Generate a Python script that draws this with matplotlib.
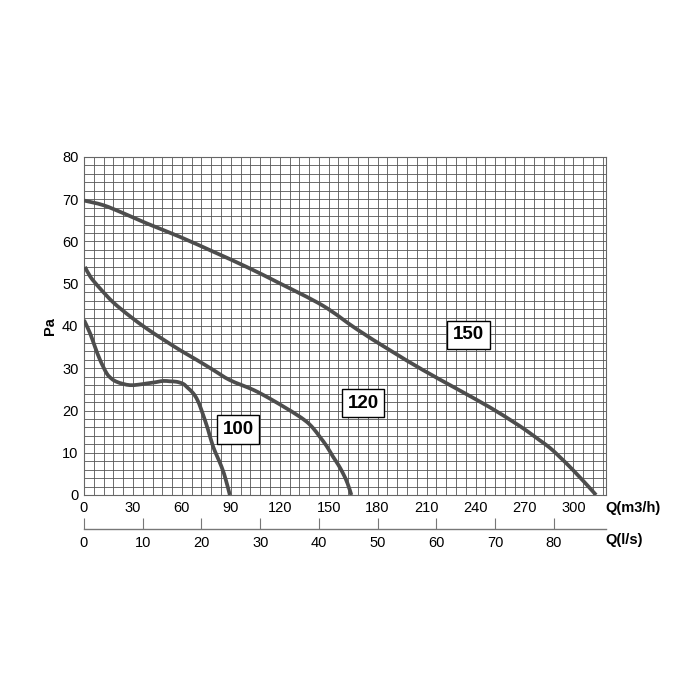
import numpy as np
import matplotlib
matplotlib.use("Agg")
import matplotlib.pyplot as plt
from matplotlib.path import Path
from matplotlib.patches import PathPatch

plt.rcParams['font.family'] = ['Liberation Sans', 'DejaVu Sans']

# fan curves: flow Q in m3/h, pressure in Pa
q_100 = [0, 3.7, 6.7, 9.8, 13.9, 17, 20, 24, 28.2, 33, 38.4, 44, 48.6, 52.7, 56.7, 60.8, 63.5, 66.9, 69.5, 72, 76.1, 79.2, 84.3, 87, 89.4]
p_100 = [41.4, 38.3, 35.1, 32.0, 28.8, 27.5, 26.8, 26.3, 26.0, 26.1, 26.4, 26.7, 27.0, 26.9, 26.8, 26.3, 25.4, 24.1, 22.5, 20.1, 15.4, 11.4, 6.7, 3.5, 0]

q_120 = [0.6, 4, 9.8, 17.9, 28.2, 38.4, 48.6, 58.8, 69, 79.2, 89.4, 103.7, 114, 124.1, 130, 136.3, 140.5, 144.5, 148.7, 152.6, 155.8, 158.8, 161.5, 163.9]
p_120 = [54.0, 51.6, 48.9, 45.6, 42.3, 39.4, 36.8, 34.3, 32.0, 29.6, 27.2, 24.9, 22.8, 20.5, 19.1, 17.4, 15.8, 13.8, 11.6, 9.1, 7.2, 5.1, 2.8, 0]

q_150 = [0, 11.8, 24.1, 38.4, 58.8, 79.2, 99.6, 120, 146.5, 167, 187.4, 207.7, 228.2, 248.6, 262.8, 271, 279.2, 285.5, 291.4, 297.5, 303.7, 309, 313.9]
p_150 = [69.7, 68.6, 66.7, 64.3, 61.1, 57.6, 54.0, 50.1, 44.8, 39.3, 34.3, 29.6, 25.2, 20.8, 17.4, 15.3, 13.0, 11.2, 9.1, 6.8, 4.3, 2.1, 0]

curve_labels = ['100', '120', '150']
label_q = [94.5, 171, 235.7]
label_p = [15.5, 21.7, 37.9]

q_ticks = [0, 30, 60, 90, 120, 150, 180, 210, 240, 270, 300]
p_ticks = [0, 10, 20, 30, 40, 50, 60, 70, 80]
ls_ticks = [0, 10, 20, 30, 40, 50, 60, 70, 80]


def smooth_path(ax, xs, ys):
    # Catmull-Rom through the read points, drawn as cubic Bezier pieces in display space
    pts = ax.transData.transform(np.column_stack([xs, ys]))
    pts = np.vstack([pts[0], pts, pts[-1]])
    verts = [pts[1]]
    codes = [Path.MOVETO]
    for i in range(1, len(pts) - 2):
        p0, p1, p2, p3 = pts[i - 1], pts[i], pts[i + 1], pts[i + 2]
        verts += [p1 + (p2 - p0) / 6, p2 - (p3 - p1) / 6, p2]
        codes += [Path.CURVE4] * 3
    return Path(ax.transData.inverted().transform(np.array(verts)), codes)


fig = plt.figure(figsize=(7, 7), dpi=100)
ax = fig.add_axes([84 / 700, 205 / 700, 522 / 700, 338 / 700])
ax.set_xlim(0, 320)
ax.set_ylim(0, 80)

# fine grid paper
for x in np.arange(0, 320, 6):
    ax.axvline(x, color='#555555', lw=0.6, zorder=1)
for y in np.arange(0, 81, 2):
    ax.axhline(y, color='#555555', lw=0.6, zorder=1)

line_color = '#4d4d4d'
for q, p in [(q_100, p_100), (q_120, p_120), (q_150, p_150)]:
    ax.add_patch(PathPatch(smooth_path(ax, q, p), fill=False, ec=line_color, lw=2.7,
                           capstyle='butt', joinstyle='round', zorder=3))

for txt, x, y in zip(curve_labels, label_q, label_p):
    ax.text(x, y, txt, fontsize=13.5, fontweight='bold', ha='center', va='center', zorder=4,
            bbox=dict(boxstyle='square,pad=0.3', fc='white', ec='black', lw=1.0))

ax.set_xticks(q_ticks)
ax.set_yticks(p_ticks)
ax.tick_params(length=0, labelsize=10.5, pad=4)
for s in ax.spines.values():
    s.set_color('#666666')
    s.set_linewidth(0.8)
ax.set_ylabel('Pa', fontsize=10.5, fontweight='bold', labelpad=4)
fig.text(605 / 700, 1 - 508 / 700, 'Q(m3/h)', fontsize=10.5, fontweight='bold', ha='left', va='center')

# second flow scale in l/s
ax2 = fig.add_axes([84 / 700, 171 / 700, 522 / 700, 0.0001])
ax2.set_xlim(0, 320)
ax2.set_yticks([])
for side in ['top', 'left', 'right']:
    ax2.spines[side].set_visible(False)
ax2.spines['bottom'].set_color('#777777')
ax2.spines['bottom'].set_linewidth(1.0)
ax2.set_xticks([v * 3.6 for v in ls_ticks])
ax2.set_xticklabels([str(v) for v in ls_ticks])
ax2.tick_params(axis='x', direction='in', length=8, color='#777777', labelsize=10.5, pad=5)
ax2.patch.set_visible(False)
fig.text(605 / 700, 1 - 540 / 700, 'Q(l/s)', fontsize=10.5, fontweight='bold', ha='left', va='center')

fig.savefig('out.png', dpi=100, facecolor='white')
